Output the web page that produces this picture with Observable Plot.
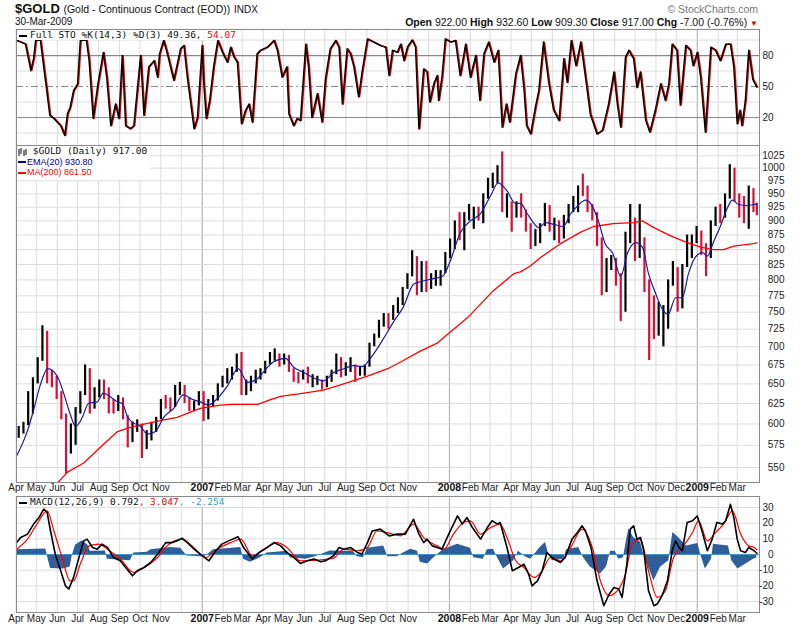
<!DOCTYPE html>
<html><head><meta charset="utf-8">
<script src="https://cdn.jsdelivr.net/npm/d3@7"></script>
<script src="https://cdn.jsdelivr.net/npm/@observablehq/plot@0.6"></script>
<style>
body{margin:0;background:#fff;}
#root{position:relative;width:800px;height:629px;overflow:hidden;font-family:"Liberation Sans",Arial,sans-serif;color:#111;}
.abs{position:absolute;white-space:nowrap;}
.pan{position:absolute;left:0;}
.sw{display:inline-block;width:8px;height:2px;vertical-align:middle;margin-right:3px;}
.lg{font-family:"DejaVu Sans Mono","Liberation Mono",monospace;font-size:9.5px;}
.lg2{font-family:"Liberation Sans",Arial,sans-serif;font-size:9px;}
</style></head><body>
<div id="root">
  <div class="abs" style="left:15px;top:1px;font-size:13px;font-weight:bold;">$GOLD <span style="font-size:10.5px;font-weight:normal">(Gold - Continuous Contract (EOD))</span> <span style="font-size:10px;font-weight:normal">INDX</span></div>
  <div class="abs" style="left:15px;top:16px;font-size:10px;">30-Mar-2009</div>
  <div class="abs" style="right:42px;top:3px;font-size:10.5px;color:#777;">© StockCharts.com</div>
  <div class="abs" style="right:42px;top:16px;font-size:10.5px;"><b>Open</b> 922.00 <b>High</b> 932.60 <b>Low</b> 909.30 <b>Close</b> 917.00 <b>Chg</b> -7.00 (-0.76%) <span style="color:#d00;font-size:8px">▼</span></div>
  <div id="sto" class="pan" style="top:29px"></div>
  <div id="price" class="pan" style="top:145px"></div>
  <div id="macd" class="pan" style="top:496px"></div>
  <div class="abs lg" style="left:17px;top:30px;background:#fff;padding:0 2px;line-height:10px;"><span class="sw" style="background:#000"></span>Full STO %K(14,3) %D(3) 49.36, <span style="color:#e00">54.07</span></div>
  <div class="abs" style="left:17px;top:146px;background:#fff;padding:0 3px 2px 1px;line-height:10.5px;">
    <div class="lg"><svg width="9" height="8" style="vertical-align:middle"><path d="M1,1V8M3,0V6M6,2V8M8,1V7" stroke="#000" stroke-width="1"/></svg> $GOLD (Daily) 917.00</div>
    <div class="lg2" style="color:#00008b"><span class="sw" style="background:#00008b;margin-right:1px"></span>EMA(20) 930.80</div>
    <div class="lg2" style="color:#f00"><span class="sw" style="background:#f00;margin-right:1px"></span>MA(200) 861.50</div>
  </div>
  <div class="abs lg" style="left:17px;top:497px;background:#fff;padding:0 2px;line-height:10px;"><span class="sw" style="background:#000"></span>MACD(12,26,9) 0.792<span style="color:#e00">, 3.047</span><span style="color:#3399cc">, -2.254</span></div>
</div>
<script>
// ---------- DATA ----------
// day offsets are days since 2006-04-01
const monthLabels = ["Apr","May","Jun","Jul","Aug","Sep","Oct","Nov","","2007","Feb","Mar","Apr","May","Jun","Jul","Aug","Sep","Oct","Nov","","2008","Feb","Mar","Apr","May","Jun","Jul","Aug","Sep","Oct","Nov","Dec","2009","Feb","Mar"];
const priceTicks = [550,575,600,625,650,675,700,725,750,775,800,825,850,875,900,925,950,975,1000,1025];
const stoTicks = [20,50,80];
const macdTicks = [-30,-20,-10,0,10,20,30];

// weekly bars (weeks ending Fri 2006-04-07 ... 2009-03-27) + last day 2009-03-30
const wkHigh = [
 597,602,640,658,685,730,722,668,660,640,612,600,620,640,675,670,645,655,655,645,630,635,632,610,602,605,600,592,602,608,630,635,632,648,652,648,632,628,640,
 640,630,635,650,660,670,672,690,692,655,660,668,670,680,692,697,690,690,688,670,665,668,672,662,660,655,660,668,690,685,678,685,675,672,675,705,718,738,748,748,760,772,788,810,848,838,830,830,810,815,815,845,
 868,900,915,915,930,925,925,950,980,990,1005,1033,950,935,935,950,920,895,885,895,932,928,905,900,910,930,945,965,988,965,930,915,870,835,840,835,810,880,930,905,930,870,800,775,765,760,800,830,820,825,875,875,
 890,882,860,900,925,930,950,1007,1000,950,945,965,960,932.6];
const wkLow = [
 583,588,598,612,650,680,650,645,630,605,543,565,575,612,635,612,618,632,630,612,612,615,605,572,578,590,560,570,580,590,605,618,615,620,635,625,615,615,622,
 603,605,620,628,645,650,655,665,635,635,640,650,655,663,675,680,672,675,665,652,650,655,650,645,648,642,645,652,662,658,660,665,652,660,660,672,700,712,728,725,738,748,760,785,805,775,780,780,785,790,790,810,
 835,850,865,848,900,885,900,895,940,960,970,915,905,880,905,905,880,850,855,860,890,880,865,860,868,895,915,915,945,915,900,855,775,780,815,790,736,750,860,830,835,780,681,710,715,700,725,790,750,755,820,835,
 860,840,805,835,890,895,905,940,935,905,895,885,915,909.3];
const wkClose = [
 592,598,625,654,681,715,660,655,645,612,575,585,616,635,665,630,640,648,640,622,620,630,610,578,598,600,570,590,598,605,628,625,620,645,648,630,622,625,635,
 608,627,630,645,655,665,665,685,645,650,655,662,664,678,690,690,678,684,668,660,656,665,655,655,655,650,656,665,683,665,675,675,665,668,673,702,714,735,745,740,755,765,785,805,835,785,825,785,800,800,810,840,
 865,895,880,910,910,920,905,948,975,975,1000,920,935,905,925,915,890,855,880,888,925,885,900,870,905,925,930,960,955,925,915,865,790,830,835,800,760,865,880,835,860,785,730,720,740,745,795,815,755,820,840,870,
 880,855,840,895,925,915,945,1000,942,940,930,952,924,917];

const ema20 = [[1,563],[17,592],[26,617],[36,649],[47,670],[61,660],[70,639],[80,612],[88,597],[98,608],[107,625],[120,627],[129,638],[140,633],[150,627],[157,625],[165,608],[174,601],[184,597],[194,588],[206,591],[218,608],[233,619],[247,636],[261,630],[272,627],[284,623],[297,631],[312,647],[328,670],[342,652],[357,657],[361,661],[380,679],[398,684],[410,672],[425,665],[439,658],[454,654],[469,665],[484,670],[498,674],[513,673],[519,679],[531,694],[543,712],[557,735],[572,758],[587,793],[597,797],[616,802],[630,806],[641,830],[656,879],[671,900],[686,913],[701,947],[712,971],[726,954],[737,932],[745,932],[755,913],[764,897],[772,888],[782,897],[794,894],[808,890],[819,913],[829,927],[841,938],[851,927],[860,900],[870,860],[881,844],[893,806],[903,844],[915,862],[925,854],[934,810],[944,780],[956,752],[963,747],[974,772],[984,772],[993,810],[1003,837],[1014,845],[1021,839],[1030,863],[1040,890],[1051,925],[1058,938],[1067,930],[1080,928],[1089,930],[1094,930.8]];
const ma200 = [[61,533],[76,545],[100,555],[125,573],[150,591],[165,595],[184,599],[213,604],[238,608],[272,619],[302,623],[321,624],[357,624],[376,630],[391,634],[425,638],[454,642],[484,650],[519,660],[549,670],[572,681],[597,694],[622,705],[627,709],[667,742],[705,783],[735,810],[745,813],[760,823],[775,837],[804,860],[834,880],[853,890],[882,895],[912,897],[925,900],[942,888],[966,874],[991,862],[1011,854],[1030,850],[1045,850],[1060,856],[1089,860],[1094,861.5]];

const stoK = [[1,94.5],[7,93],[14,91],[22,65.5],[26,77],[29,94.5],[36,95],[50,22],[56,19],[61,15.5],[66,12],[72,2.5],[76,23.5],[80,30],[85,46],[91,52.6],[95,94.5],[104,95],[108,75],[114,19],[121,52.6],[129,83],[134,59],[140,12],[147,33],[152,19],[157,80],[162,12],[169,9],[174,12],[184,80],[189,22],[196,69],[204,75],[209,59],[212,81.6],[218,94.5],[223,83],[233,56],[243,86.5],[248,89.7],[253,59],[263,9],[268,20],[275,89.7],[277,56],[281,19],[286,36.5],[292,70],[298,94.5],[305,83],[312,73.5],[317,88],[322,78.4],[327,73.5],[333,14],[339,27],[344,33],[349,15.5],[356,81.6],[361,85],[371,88],[381,94.5],[386,85],[393,59],[400,69],[403,23.5],[410,12],[415,19],[420,17],[428,91],[432,69],[437,20],[445,43],[452,15.5],[457,57.4],[464,86.5],[472,94.5],[477,88],[482,33],[489,86.5],[494,81.6],[499,69],[506,40],[511,64],[519,96],[528,93],[538,89.7],[546,88],[551,60.6],[556,85],[563,83],[568,91],[573,75],[578,88],[585,95],[590,88],[595,9],[602,67],[607,64],[611,35],[617,52.6],[622,60.6],[624,36.5],[629,59],[634,96],[642,93],[649,94.5],[656,60.6],[664,91],[671,59],[679,80],[685,36.5],[691,81.6],[698,93],[706,73.5],[712,85],[718,10.6],[724,33],[729,15.5],[738,62],[745,80],[750,49],[754,12],[760,4],[767,30],[772,46],[779,93],[787,52.6],[794,27],[802,17],[809,77],[814,54],[820,94.5],[827,70],[834,93],[843,49],[848,23.5],[858,4],[866,7.6],[875,33],[883,64],[888,33],[893,10.6],[900,78.4],[905,85],[912,77],[917,49],[922,64],[930,17],[936,5.8],[944,27],[952,52.6],[959,36.5],[964,52.6],[969,91],[976,85],[981,32],[989,89.7],[996,85],[1000,70],[1006,83],[1011,59],[1018,5.8],[1026,88],[1033,85],[1040,75],[1048,91],[1055,91],[1060,69],[1065,14],[1069,27],[1072,12],[1077,36.5],[1082,85],[1088,57],[1094,49.4]];

const macdLine = [[1,7.6],[7,10.8],[17,13],[26,19.4],[34,23.6],[41,29],[46,26.8],[51,15],[58,0.2],[66,-10.4],[73,-20],[78,-22],[85,-14.6],[93,-1.9],[100,8.7],[105,9.8],[113,4.5],[120,3.4],[127,6.6],[135,4.5],[144,-1.9],[154,-4],[162,-8.3],[172,-13.6],[179,-10.4],[189,-8.3],[199,-5.1],[211,1.3],[221,7.6],[231,7.6],[238,8.7],[245,10.4],[253,7.6],[263,3.4],[272,0.3],[285,-4],[295,2.4],[304,6.6],[314,8.7],[328,11.3],[336,4.5],[349,-2.9],[359,1.3],[371,4.5],[381,7.6],[391,5.5],[400,1.3],[410,-1.9],[420,-5.7],[430,-4],[440,-2.9],[450,-4.6],[457,-4],[469,-0.8],[477,4.5],[484,3.4],[494,4.5],[504,1.3],[511,0.3],[519,7.6],[526,15],[538,16.2],[551,11.9],[563,13],[575,13],[587,22.5],[595,13],[602,7.6],[607,9.8],[615,5.5],[622,4.5],[629,3.4],[639,13],[652,24.6],[659,19.4],[666,23.6],[674,17.2],[686,9.8],[696,17.2],[703,21.5],[711,19.4],[715,20.4],[725,4.5],[733,-10.4],[742,-8.3],[750,-6.1],[757,-12.5],[762,-20],[770,-16.8],[777,-10.4],[784,1.3],[794,-2.9],[804,-5.1],[811,-1.9],[821,9.8],[829,14],[836,18.3],[841,15],[849,4.5],[858,-16.8],[866,-29.5],[868,-32.7],[876,-25.2],[883,-21],[890,-22],[895,-27.4],[902,-6.1],[907,16.2],[912,18.3],[917,9.8],[922,10.8],[927,2.4],[934,-23.1],[942,-32.7],[947,-31.6],[954,-26.3],[962,-16.8],[969,2.4],[974,8.7],[979,4.5],[984,2.4],[991,20.4],[999,21.5],[1006,24.6],[1013,15],[1021,2.4],[1028,9.8],[1035,20.4],[1043,19.4],[1048,21.5],[1055,32],[1060,23.6],[1065,9.8],[1070,2.4],[1077,1.3],[1082,4.5],[1090,2.4],[1094,0.8]];
const macdSignal = [[1,3.4],[17,9.8],[31,19.4],[46,27.8],[56,15],[68,-1.9],[80,-16.8],[85,-16.8],[95,-6.1],[108,5.5],[122,6.6],[135,3.4],[154,-2.9],[174,-11.5],[189,-8.3],[209,-1.9],[223,5.5],[245,9.8],[260,5.5],[280,-1.9],[297,3.4],[317,7.6],[332,9.8],[349,-0.8],[366,3.4],[386,7.6],[400,4.5],[420,-4],[445,-3.6],[469,-2.3],[484,3.4],[504,2.4],[519,4.5],[533,15],[548,14],[568,11.9],[587,19.4],[602,10.8],[622,5.5],[632,3.4],[646,13],[661,20.4],[671,21.5],[686,13],[701,17.2],[715,19.4],[725,10.8],[738,-4],[750,-8.3],[765,-14.6],[777,-10.4],[789,-1.9],[804,-4],[819,4.5],[836,16.2],[851,4.5],[863,-16.8],[876,-26.3],[888,-23.1],[900,-12.5],[910,6.6],[922,9.8],[934,-10.4],[947,-27.4],[959,-23.1],[971,-1.9],[984,4.5],[999,14],[1008,21.5],[1021,8.7],[1033,14],[1045,19.4],[1058,27.8],[1070,13],[1082,5.5],[1090,4.5],[1094,3.05]];
const macdHist = [[1,3],[44,3.5],[47,-2],[51,-9],[70,-9.3],[80,-8],[83,-1],[88,6],[98,8.7],[106,6],[110,2],[132,2.3],[135,-3],[169,-4],[174,1],[194,1.5],[199,3],[228,4.5],[243,4],[253,-1],[273,-1.5],[280,-1],[292,3],[332,4.5],[336,-3],[346,-5],[361,-2],[371,1],[401,2],[405,-2],[428,-3],[442,-1.5],[464,2.3],[498,2],[504,-1.5],[513,-2],[519,4],[543,5.5],[549,-1.5],[563,-1.5],[572,1],[583,3.4],[593,2],[597,-5],[608,-6],[617,-2],[631,3],[652,6.6],[671,4],[676,-2],[690,-3],[696,3],[705,3.4],[711,-2],[720,-9.3],[735,-4],[742,2],[752,-1.5],[760,-3],[775,5],[782,7.6],[786,1],[792,-4],[809,-3],[813,3],[831,4.5],[838,-2],[848,-8],[863,-12.5],[872,-8],[878,2],[885,2],[890,-3],[897,-2],[902,10],[905,16.2],[912,10.8],[922,8],[927,0],[934,-8],[942,-16.8],[952,-8],[964,-4],[970,14],[978,11],[990,5.5],[1007,7],[1011,0],[1018,-9.3],[1027,-3],[1030,6.6],[1052,5.5],[1057,-4],[1066,-9.3],[1082,-5],[1089,-3],[1094,-2.25]];

// ---------- BUILD ----------
const DAY0 = Date.UTC(2006,3,1);
const dd = d => new Date(DAY0 + d*864e5);
const months = d3.utcMonth.range(new Date(Date.UTC(2006,3,1)), new Date(Date.UTC(2009,3,1))).map((date,i)=>({date, label: monthLabels[i], year: date.getUTCMonth()===0}));
const bars = wkClose.map((c,i)=>({
  date: i < 156 ? dd(4 + 7*i) : dd(1094),
  high: wkHigh[i], low: wkLow[i], close: c,
  up: i===0 ? true : c >= wkClose[i-1]
}));
const pts = arr => arr.map(([d,v])=>({date: dd(d), v}));

const X = {type:"utc", domain:[dd(0.74), dd(1097.9)], axis:null};
const FONT = {fontFamily:"'Liberation Sans', Arial, sans-serif", fontSize:"10px", background:"transparent", overflow:"visible"};
const GRID = "#dcdcdc", YEAR = "#a8a8a8", FRAME = "#8a8a8a";
const vgrid = [
  Plot.ruleX(months.filter(m=>!m.year), {x:"date", stroke:GRID}),
  Plot.ruleX(months.filter(m=>m.year), {x:"date", stroke:YEAR})
];
const monthText = mb => [
  Plot.text(months.filter(m=>!m.year && m.label), {x:"date", text:"label", frameAnchor:"bottom", dy:mb, fill:"#222", fontSize:10}),
  Plot.text(months.filter(m=>m.year), {x:"date", text:"label", frameAnchor:"bottom", dy:mb, fill:"#111", fontSize:10.5, fontWeight:"bold"})
];

// STO panel
document.getElementById("sto").append(Plot.plot({
  width:800, height:116, marginLeft:16, marginRight:41, marginTop:0, marginBottom:0,
  x:X, y:{domain:[-7.1,105.2], axis:null}, style:FONT,
  marks:[
    ...vgrid,
    Plot.ruleY([5,35,65,95], {stroke:GRID}),
    Plot.ruleY([20,80], {stroke:"#888", strokeWidth:1.2}),
    Plot.ruleY([50], {stroke:"#888", strokeDasharray:"7,3,2,3"}),
    Plot.line(pts(stoK), {x:"date", y:"v", stroke:"#e00", strokeWidth:1.3, dx:1}),
    Plot.line(pts(stoK), {x:"date", y:"v", stroke:"#000", strokeWidth:1.5}),
    Plot.frame({stroke:FRAME}),
    Plot.text(stoTicks, {y:d=>d, text:d=>String(d), frameAnchor:"right", textAnchor:"end", dx:14, fill:"#222"})
  ]
}));

// Price panel
document.getElementById("price").append(Plot.plot({
  width:800, height:351, marginLeft:16, marginRight:41, marginTop:0, marginBottom:14,
  x:X, y:{type:"log", domain:[533.8,1046.3], axis:null}, style:FONT,
  marks:[
    ...vgrid,
    Plot.ruleY(priceTicks, {stroke:GRID}),
    Plot.ruleX(bars.filter(b=>b.up), {x:"date", y1:"low", y2:"high", stroke:"#000", strokeWidth:2.2}),
    Plot.ruleX(bars.filter(b=>!b.up), {x:"date", y1:"low", y2:"high", stroke:"#d4103a", strokeWidth:2.2}),
    Plot.line(pts(ma200), {x:"date", y:"v", stroke:"#f00", strokeWidth:1.3, clip:true}),
    Plot.line(pts(ema20), {x:"date", y:"v", stroke:"#1a1a9a", strokeWidth:1.2, curve:"monotone-x"}),
    Plot.frame({stroke:FRAME}),
    Plot.text(priceTicks, {y:d=>d, text:d=>String(d), frameAnchor:"right", textAnchor:"end", dx:25, fill:"#222"}),
    ...monthText(8)
  ]
}));

// MACD panel
document.getElementById("macd").append(Plot.plot({
  width:800, height:130, marginLeft:16, marginRight:41, marginTop:0, marginBottom:14,
  x:X, y:{domain:[-37,37], axis:null}, style:FONT,
  marks:[
    ...vgrid,
    Plot.ruleY(macdTicks, {stroke:GRID}),
    Plot.areaY(pts(macdHist), {x:"date", y:"v", fill:"#2f5f9a"}),
    Plot.ruleY([0], {stroke:"#4f8fc6", strokeWidth:1}),
    Plot.line(pts(macdSignal), {x:"date", y:"v", stroke:"#f00", strokeWidth:1.2, curve:"monotone-x"}),
    Plot.line(pts(macdLine), {x:"date", y:"v", stroke:"#000", strokeWidth:1.6}),
    Plot.frame({stroke:FRAME}),
    Plot.text(macdTicks, {y:d=>d, text:d=>String(d), frameAnchor:"right", textAnchor:"end", dx:14, fill:"#222"}),
    ...monthText(9)
  ]
}));
</script>
</body></html>
